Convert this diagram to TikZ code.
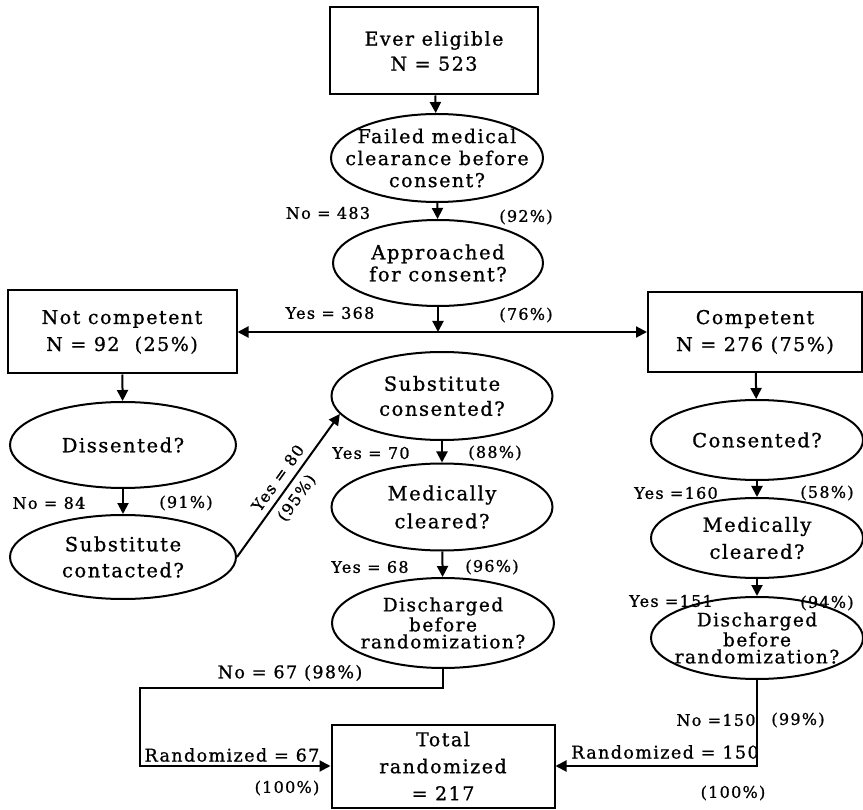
\documentclass[tikz,border=0pt]{standalone}
\usepackage{fontspec}
\setmainfont{DejaVu Serif}[LetterSpace=8,FakeBold=1]
\usetikzlibrary{shapes.geometric,arrows.meta}
\begin{document}
\begin{tikzpicture}[x=1pt,y=-1pt,
  every node/.style={inner sep=0pt},
  boxnode/.style={draw,line width=2pt,align=center,font=\fontsize{19}{27}\selectfont},
  ellnode/.style={draw,ellipse,line width=2pt,inner sep=-30pt,align=center,font=\fontsize{19.5}{21}\selectfont},
  dischtxt/.style={font=\fontsize{18.5}{20}\selectfont},
  lbl/.style={font=\fontsize{16}{18}\selectfont},
  blbl/.style={font=\fontsize{17.5}{19}\selectfont},
  arr/.style={line width=2pt,-{Triangle[length=11pt,width=11pt]}}]
\useasboundingbox (0,0) rectangle (863,810);
% top chain
\node[boxnode,minimum width=208pt,minimum height=87pt,font=\fontsize{19}{25}\selectfont] (top) at (434,51) {Ever eligible\\N = 523};
\node[ellnode,minimum width=212pt,minimum height=88pt,font=\fontsize{19}{22}\selectfont] (failed) at (437,158) {Failed medical\\clearance before\\consent?};
\node[ellnode,minimum width=210pt,minimum height=86pt] (appr) at (438,263) {Approached\\[1pt]for consent?};
\node[lbl] (l483) at (328,213) {No = 483};
\node[lbl] (l92) at (526,217) {(92\%)};
\node[lbl] (l368) at (330,313) {Yes = 368};
\node[lbl] (l76) at (526,315) {(76\%)};
% split boxes
\node[boxnode,minimum width=229pt,minimum height=83pt] (nc) at (122,332) {Not competent\\N = 92~~(25\%)};
\node[boxnode,minimum width=214pt,minimum height=80pt] (comp) at (755,332) {Competent\\N = 276 (75\%)};
% left column
\node[ellnode,minimum width=226pt,minimum height=86pt] (diss) at (123,445) {Dissented?};
\node[ellnode,minimum width=226pt,minimum height=84pt] (subcont) at (123,557) {Substitute\\[5pt]contacted?};
\node[lbl] (l84) at (49,503) {No = 84};
\node[lbl] (l91) at (186,503) {(91\%)};
% middle column
\node[ellnode,minimum width=221pt,minimum height=88pt] (subcons) at (442,396) {Substitute\\[4pt]consented?};
\node[ellnode,minimum width=221pt,minimum height=87pt] (medM) at (442,507) {Medically\\[7pt]cleared?};
\node[ellnode,dischtxt,minimum width=222pt,minimum height=90pt] (dischM) at (443,623) {Discharged\\[0pt]before\\[-3pt]randomization?};
\node[lbl] (l70) at (371,453) {Yes = 70};
\node[lbl] (l88) at (495,453) {(88\%)};
\node[lbl] (l68) at (370,567) {Yes = 68};
\node[lbl] (l96) at (492,567) {(96\%)};
% right column
\node[ellnode,minimum width=212pt,minimum height=80pt] (cons) at (757,440) {Consented?};
\node[ellnode,minimum width=212pt,minimum height=80pt] (medR) at (757,538) {Medically\\[6pt]cleared?};
\node[ellnode,dischtxt,minimum width=212pt,minimum height=82pt] (dischR) at (757,638) {Discharged\\[0pt]before\\[-3pt]randomization?};
\node[lbl] (l160) at (676,493) {Yes =160};
\node[lbl] (l58) at (827,493) {(58\%)};
\node[lbl] (l151) at (671,601) {Yes =151};
\node[lbl] (l94) at (827,603) {(94\%)};
% total
\node[boxnode,minimum width=223pt,minimum height=83pt] (total) at (443,766) {Total\\randomized\\= 217};
\node[blbl] (l67) at (290,673) {No = 67 (98\%)};
\node[blbl] (lr67) at (232,755) {Randomized = 67};
\node[lbl] (lp100a) at (287,788) {(100\%)};
\node[lbl] (l150) at (716,720) {No =150};
\node[lbl] (l99) at (798,720) {(99\%)};
\node[blbl] (lr150) at (665,752) {Randomized = 150};
\node[lbl] (lp100b) at (733,793) {(100\%)};
% connectors
\draw[arr] (top) -- (failed);
\draw[arr] (failed) -- (appr);
\coordinate (split) at (appr.south |- nc.east);
\draw[arr] (appr.south) -- (split);
\draw[line width=2pt,{Triangle[length=11pt,width=11pt]}-{Triangle[length=11pt,width=11pt]}] (nc.east) -- (comp.west);
\draw[arr] (nc) -- (diss);
\draw[arr] (diss) -- (subcont);
\draw[arr] (subcont.east) -- node[pos=0.5,sloped,above=6pt,lbl] (l80) {Yes = 80} node[pos=0.47,sloped,below=6pt,lbl] (l95) {(95\%)} (subcons.190);
\draw[arr] (subcons) -- (medM);
\draw[arr] (medM) -- (dischM);
\draw[arr] (comp) -- (cons);
\draw[arr] (cons) -- (medR);
\draw[arr] (medR) -- (dischR);
\coordinate (lc) at (140,688);
\draw[arr] (dischM.south) |- (lc) |- (total.west);
\draw[arr] (dischR.south) |- (total.east);
\end{tikzpicture}
\end{document}
